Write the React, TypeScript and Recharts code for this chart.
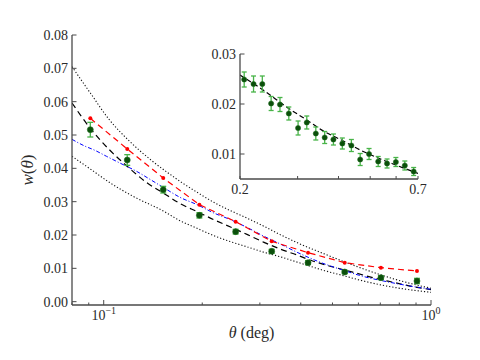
import React from "react";
import { ComposedChart, Line, Scatter, XAxis, YAxis, ErrorBar, Label, CartesianGrid } from "recharts";

// measured w(theta), log-spaced bins between 0.08 and 1 deg
const thetaBins = [0.091, 0.118, 0.152, 0.196, 0.253, 0.326, 0.421, 0.545, 0.703, 0.906];
const wMeasured = [0.0516, 0.0425, 0.0336, 0.0259, 0.021, 0.0151, 0.0117, 0.0089, 0.0072, 0.0062];
const wMeasuredErr = [0.0022, 0.0016, 0.001, 0.0008, 0.0007, 0.0006, 0.0006, 0.0005, 0.0006, 0.0008];
const wRed = [0.055, 0.0458, 0.0371, 0.0291, 0.024, 0.0181, 0.0147, 0.0117, 0.0102, 0.0092];

// model curves
const modelTheta = [0.08, 0.091, 0.104, 0.118, 0.135, 0.152, 0.172, 0.193, 0.217, 0.244, 0.275, 0.309, 0.348, 0.392, 0.421, 0.473, 0.545, 0.599, 0.703, 0.759, 0.873, 1.0];
const wModel = [0.0596, 0.052, 0.0456, 0.0406, 0.0358, 0.0326, 0.0293, 0.027, 0.0246, 0.0224, 0.0201, 0.0178, 0.0157, 0.0139, 0.0127, 0.0111, 0.0095, 0.0084, 0.0066, 0.0059, 0.0046, 0.0036];

const blueTheta = [0.08, 0.087, 0.094, 0.102, 0.112, 0.126, 0.139, 0.156, 0.171, 0.193, 0.217, 0.244, 0.275, 0.309, 0.348, 0.392, 0.462, 0.545, 0.599, 0.759, 1.0];
const wBlue = [0.0487, 0.0468, 0.0454, 0.0436, 0.0416, 0.0391, 0.0366, 0.0336, 0.0313, 0.0291, 0.0266, 0.0246, 0.0222, 0.0196, 0.0172, 0.0147, 0.0117, 0.0093, 0.008, 0.0057, 0.0037];

const upperTheta = [0.08, 0.091, 0.104, 0.12, 0.139, 0.16, 0.171, 0.193, 0.217, 0.244, 0.275, 0.309, 0.348, 0.392, 0.473, 0.599, 0.759, 1.0];
const wUpper = [0.0705, 0.0626, 0.0546, 0.0481, 0.0426, 0.0381, 0.0361, 0.0328, 0.0298, 0.0273, 0.025, 0.0226, 0.02, 0.0176, 0.0143, 0.0104, 0.007, 0.004];

const lowerTheta = [0.08, 0.091, 0.104, 0.123, 0.152, 0.171, 0.197, 0.217, 0.244, 0.275, 0.309, 0.348, 0.392, 0.473, 0.545, 0.599, 0.759, 1.0];
const wLower = [0.0436, 0.0398, 0.0358, 0.0316, 0.0272, 0.0243, 0.0216, 0.0198, 0.018, 0.0164, 0.0148, 0.0134, 0.0118, 0.0093, 0.0077, 0.0066, 0.0044, 0.0028];

// inset: finer bins between 0.2 and 0.7 deg
const insetTheta = [0.206, 0.22, 0.234, 0.249, 0.265, 0.282, 0.301, 0.32, 0.341, 0.363, 0.386, 0.411, 0.438, 0.466, 0.496, 0.529, 0.563, 0.599, 0.638, 0.679];
const insetW = [0.0249, 0.024, 0.024, 0.0201, 0.0199, 0.0181, 0.0152, 0.0163, 0.0141, 0.0133, 0.0129, 0.0121, 0.0117, 0.0089, 0.01, 0.0085, 0.0081, 0.0084, 0.0077, 0.0065];
const insetErr = [0.0015, 0.0016, 0.0016, 0.0014, 0.0014, 0.0013, 0.0014, 0.0013, 0.0013, 0.0012, 0.0011, 0.0011, 0.0012, 0.0012, 0.0011, 0.001, 0.0009, 0.0009, 0.0009, 0.0008];
const insetModelTheta = [0.2, 0.234, 0.282, 0.32, 0.362, 0.411, 0.466, 0.528, 0.598, 0.7];
const insetModel = [0.0258, 0.0229, 0.0191, 0.0168, 0.0145, 0.0127, 0.0108, 0.0092, 0.0078, 0.0061];

// ticks
const mainXTicks = [0.08, 0.09, 0.1, 0.2, 0.3, 0.4, 0.5, 0.6, 0.7, 0.8, 0.9, 1];
const mainXMajor = [0.1, 1];
const mainYTicks = [0, 0.01, 0.02, 0.03, 0.04, 0.05, 0.06, 0.07, 0.08];
const insetXTicks = [0.2, 0.3, 0.4, 0.5, 0.6, 0.7];
const insetXLabelled = [0.2, 0.7];
const insetYTicks = [0.01, 0.02, 0.03];

const FONT = '"Liberation Serif", "Times New Roman", serif';
const AXIS = "#4a4a4a";
const TXT = "#2a2a2a";
const txtStyle = (size: number): React.CSSProperties => ({ fontFamily: FONT, fontSize: size, fill: TXT });

const zip = (xs: number[], ys: number[], es?: number[]) =>
  xs.map((x, i) => ({ x, y: ys[i], err: es ? es[i] : 0 }));

const obsData = zip(thetaBins, wMeasured, wMeasuredErr);
const redData = zip(thetaBins, wRed);
const modelData = zip(modelTheta, wModel);
const blueData = zip(blueTheta, wBlue);
const upperData = zip(upperTheta, wUpper);
const lowerData = zip(lowerTheta, wLower);
const insetData = zip(insetTheta, insetW, insetErr);
const insetModelData = zip(insetModelTheta, insetModel);

// tick renderers: ticks point into the frame
const bottomTick = (labelFn: (v: number) => React.ReactNode, lenFn: (v: number) => number) => (props: any) => {
  const { x, y, payload } = props;
  const label = labelFn(payload.value);
  return (
    <g>
      <line x1={x} y1={y} x2={x} y2={y - lenFn(payload.value)} stroke={AXIS} strokeWidth={1} />
      {label !== null && (
        <text x={x} y={y + 15} textAnchor="middle" style={txtStyle(14)}>
          {label}
        </text>
      )}
    </g>
  );
};

const topTick = (lenFn: (v: number) => number) => (props: any) => {
  const { x, y, payload } = props;
  return <line x1={x} y1={y} x2={x} y2={y + lenFn(payload.value)} stroke={AXIS} strokeWidth={1} />;
};

const leftTick = (props: any) => {
  const { x, y, payload } = props;
  return (
    <g>
      <line x1={x} y1={y} x2={x + 4.5} y2={y} stroke={AXIS} strokeWidth={1} />
      <text x={x - 4} y={y + 5} textAnchor="end" style={txtStyle(14)}>
        {payload.value.toFixed(2)}
      </text>
    </g>
  );
};

const rightTick = (props: any) => {
  const { x, y } = props;
  return <line x1={x} y1={y} x2={x - 4.5} y2={y} stroke={AXIS} strokeWidth={1} />;
};

const powerLabel = (v: number) => {
  if (!mainXMajor.includes(v)) return null;
  const exp = Math.round(Math.log10(v));
  return (
    <>
      10<tspan dy={-6} style={{ fontSize: 10 }}>{exp < 0 ? "\u2212" + Math.abs(exp) : String(exp)}</tspan>
    </>
  );
};
const mainLen = (v: number) => (mainXMajor.includes(v) ? 5 : 2.5);
const insetLabel = (v: number) => (insetXLabelled.includes(v) ? String(v) : null);
const insetLen = () => 3;

const dataDot = (props: any) => {
  const { cx, cy } = props;
  return <circle cx={cx} cy={cy} r={3} fill="#0b4f0b" stroke="#1f6e1f" strokeWidth={0.6} />;
};

const insetDot = (props: any) => {
  const { cx, cy } = props;
  return <circle cx={cx} cy={cy} r={2.6} fill="#0b4f0b" stroke="#1f6e1f" strokeWidth={0.5} />;
};

const axisLine = { stroke: AXIS, strokeWidth: 1.3 };

const App: React.FC = () => {
  return (
    <div style={{ position: "absolute", left: 0, top: 0, width: 480, height: 360, background: "#fff" }}>
      <ComposedChart width={480} height={360} margin={{ top: 35, right: 49, bottom: 0, left: 0 }}>
        <XAxis
          dataKey="x"
          type="number"
          scale="log"
          domain={[0.08, 1]}
          allowDataOverflow
          ticks={mainXTicks}
          interval={0}
          tickSize={0}
          tickMargin={0}
          height={55}
          axisLine={axisLine}
          tickLine={false}
          tick={bottomTick(powerLabel, mainLen)}
        >
          <Label
            content={({ viewBox }: any) => (
              <text x={viewBox.x + viewBox.width / 2} y={viewBox.y + 33} textAnchor="middle" style={txtStyle(16)}>
                <tspan style={{ fontStyle: "italic" }}>θ</tspan> (deg)
              </text>
            )}
          />
        </XAxis>
        <XAxis
          xAxisId="top"
          orientation="top"
          dataKey="x"
          type="number"
          scale="log"
          domain={[0.08, 1]}
          allowDataOverflow
          ticks={mainXTicks}
          interval={0}
          tickSize={0}
          tickMargin={0}
          height={0}
          axisLine={axisLine}
          tickLine={false}
          tick={topTick(mainLen)}
        />
        <YAxis
          dataKey="y"
          type="number"
          domain={[-0.001, 0.08]}
          allowDataOverflow
          ticks={mainYTicks}
          interval={0}
          tickSize={0}
          tickMargin={0}
          width={72}
          axisLine={axisLine}
          tickLine={false}
          tick={leftTick}
        >
          <Label
            content={({ viewBox }: any) => {
              const cx = viewBox.x + 33;
              const cy = viewBox.y + viewBox.height / 2;
              return (
                <text x={cx} y={cy} transform={`rotate(-90 ${cx} ${cy})`} textAnchor="middle" style={txtStyle(17)}>
                  <tspan style={{ fontStyle: "italic" }}>w</tspan>(<tspan style={{ fontStyle: "italic" }}>θ</tspan>)
                </text>
              );
            }}
          />
        </YAxis>
        <YAxis
          yAxisId="right"
          orientation="right"
          dataKey="y"
          type="number"
          domain={[-0.001, 0.08]}
          allowDataOverflow
          ticks={mainYTicks}
          interval={0}
          tickSize={0}
          tickMargin={0}
          width={0}
          axisLine={axisLine}
          tickLine={false}
          tick={rightTick}
        />
        <Line data={upperData} dataKey="y" type="monotone" stroke="#111" strokeWidth={1.1} strokeDasharray="1.2 2" dot={false} isAnimationActive={false} />
        <Line data={lowerData} dataKey="y" type="monotone" stroke="#111" strokeWidth={1.1} strokeDasharray="1.2 2" dot={false} isAnimationActive={false} />
        <Line data={modelData} dataKey="y" type="monotone" stroke="#000" strokeWidth={1.2} strokeDasharray="6 4" dot={false} isAnimationActive={false} />
        <Line data={blueData} dataKey="y" type="monotone" stroke="#0000ff" strokeWidth={1} strokeDasharray="4 2 1 2" dot={false} isAnimationActive={false} />
        <Line
          data={redData}
          dataKey="y"
          type="linear"
          stroke="#ff0000"
          strokeWidth={1.2}
          strokeDasharray="6 4"
          dot={{ r: 2, fill: "#ff0000", stroke: "#ff0000", strokeWidth: 0 }}
          isAnimationActive={false}
        />
        <Scatter data={obsData} shape={dataDot} isAnimationActive={false}>
          <ErrorBar dataKey="err" direction="y" width={3} stroke="#48b448" strokeWidth={1.3} />
        </Scatter>
      </ComposedChart>

      <div style={{ position: "absolute", left: 200, top: 40 }}>
        <ComposedChart width={230} height={160} margin={{ top: 14, right: 12, bottom: 0, left: 0 }}>
          <CartesianGrid horizontal={false} vertical={false} fill="#fff" />
          <XAxis
            dataKey="x"
            type="number"
            scale="log"
            domain={[0.2, 0.7]}
            allowDataOverflow
            ticks={insetXTicks}
            interval={0}
            tickSize={0}
            tickMargin={0}
            height={21}
            axisLine={axisLine}
            tickLine={false}
            tick={bottomTick(insetLabel, insetLen)}
          />
          <XAxis
            xAxisId="top"
            orientation="top"
            dataKey="x"
            type="number"
            scale="log"
            domain={[0.2, 0.7]}
            allowDataOverflow
            ticks={insetXTicks}
            interval={0}
            tickSize={0}
            tickMargin={0}
            height={0}
            axisLine={axisLine}
            tickLine={false}
            tick={topTick(insetLen)}
          />
          <YAxis
            dataKey="y"
            type="number"
            domain={[0.005, 0.03]}
            allowDataOverflow
            ticks={insetYTicks}
            interval={0}
            tickSize={0}
            tickMargin={0}
            width={40}
            axisLine={axisLine}
            tickLine={false}
            tick={leftTick}
          />
          <YAxis
            yAxisId="right"
            orientation="right"
            dataKey="y"
            type="number"
            domain={[0.005, 0.03]}
            allowDataOverflow
            ticks={insetYTicks}
            interval={0}
            tickSize={0}
            tickMargin={0}
            width={0}
            axisLine={axisLine}
            tickLine={false}
            tick={rightTick}
          />
          <Line data={insetModelData} dataKey="y" type="monotone" stroke="#000" strokeWidth={1.2} strokeDasharray="5 3" dot={false} isAnimationActive={false} />
          <Scatter data={insetData} shape={insetDot} isAnimationActive={false}>
            <ErrorBar dataKey="err" direction="y" width={2.5} stroke="#48b448" strokeWidth={1.3} />
          </Scatter>
        </ComposedChart>
      </div>
    </div>
  );
};

export default App;
